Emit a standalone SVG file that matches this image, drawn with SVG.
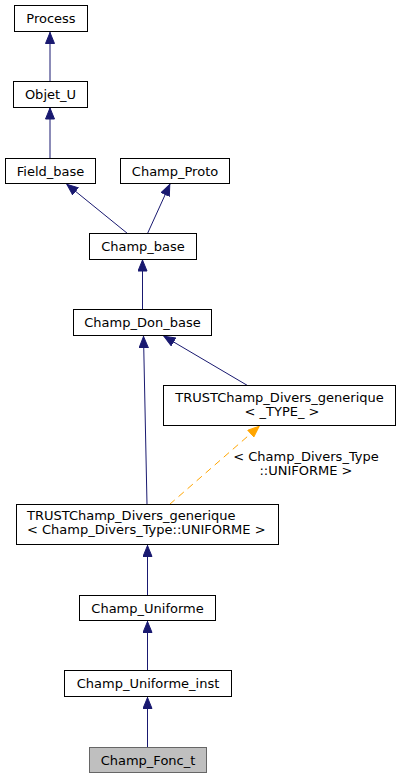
<svg xmlns="http://www.w3.org/2000/svg" width="401" height="779" viewBox="0 0 401 779">
<style>
.n rect{fill:#ffffff;stroke:#000000;stroke-width:1}
.n text{font-family:"DejaVu Sans",sans-serif;font-size:13px;fill:#000000;text-anchor:middle}
.l text{text-anchor:start}
#Champ_Fonc_t rect{fill:#bfbfbf;stroke:#666666}
.e{fill:none;stroke:#191970;stroke-width:1}
.d{fill:none;stroke:#ffa500;stroke-width:1;stroke-dasharray:7,5}
.lbl{font-family:"DejaVu Sans",sans-serif;font-size:13px;fill:#000000;text-anchor:middle}
</style>
<defs>
<marker id="ab" viewBox="0 0 12 10" refX="12" refY="5" markerWidth="12" markerHeight="10" markerUnits="userSpaceOnUse" orient="auto">
<path d="M0.5,0.5 L11.5,5 L0.5,9.5 z" fill="#191970" stroke="#191970"/>
</marker>
<marker id="ao" viewBox="0 0 12 10" refX="12" refY="5" markerWidth="12" markerHeight="10" markerUnits="userSpaceOnUse" orient="auto">
<path d="M0.5,0.5 L11.5,5 L0.5,9.5 z" fill="#ffa500" stroke="#ffa500"/>
</marker>
</defs>
<g id="edges">
<path class="e" d="M50,81.5 L50,32" marker-end="url(#ab)"/>
<path class="e" d="M50,158.5 L50,107.5" marker-end="url(#ab)"/>
<path class="e" d="M127.5,233.5 L66.5,184" marker-end="url(#ab)"/>
<path class="e" d="M147.5,233.5 L170,184" marker-end="url(#ab)"/>
<path class="e" d="M142.5,309.5 L142.5,259.5" marker-end="url(#ab)"/>
<path class="e" d="M247.5,385.5 L163.5,336" marker-end="url(#ab)"/>
<path class="e" d="M147,504.5 L143.5,336" marker-end="url(#ab)"/>
<path class="d" d="M169.5,504.5 L259.5,426" marker-end="url(#ao)"/>
<path class="e" d="M147.5,595.5 L147.5,545" marker-end="url(#ab)"/>
<path class="e" d="M147.5,670.5 L147.5,621" marker-end="url(#ab)"/>
<path class="e" d="M147.5,747.5 L147.5,697" marker-end="url(#ab)"/>
<text class="lbl" x="306" y="461">&lt; Champ_Divers_Type</text>
<text class="lbl" x="306" y="475">::UNIFORME &gt;</text>
</g>
<g id="Process" class="n"><rect x="14.5" y="5.5" width="73" height="26"/><text x="51" y="23">Process</text></g>
<g id="Objet_U" class="n"><rect x="13.5" y="81.5" width="74" height="26"/><text x="50.5" y="99">Objet_U</text></g>
<g id="Field_base" class="n"><rect x="5.5" y="158.5" width="90" height="25"/><text x="50.5" y="175.5">Field_base</text></g>
<g id="Champ_Proto" class="n"><rect x="120.5" y="158.5" width="109" height="25"/><text x="175" y="175.5">Champ_Proto</text></g>
<g id="Champ_base" class="n"><rect x="89.5" y="233.5" width="107" height="26"/><text x="143" y="251">Champ_base</text></g>
<g id="Champ_Don_base" class="n"><rect x="73.5" y="309.5" width="138" height="26"/><text x="142.5" y="327">Champ_Don_base</text></g>
<g id="TRUSTChamp_Divers_generique_TYPE" class="n"><rect x="163.5" y="385.5" width="232" height="40"/><text x="279.5" y="402">TRUSTChamp_Divers_generique</text><text x="282" y="416">&lt; _TYPE_ &gt;</text></g>
<g id="TRUSTChamp_Divers_generique_UNIFORME" class="n l"><rect x="16.5" y="504.5" width="262" height="40"/><text x="27" y="520">TRUSTChamp_Divers_generique</text><text x="27" y="534">&lt; Champ_Divers_Type::UNIFORME &gt;</text></g>
<g id="Champ_Uniforme" class="n"><rect x="79.5" y="595.5" width="136" height="25"/><text x="147.5" y="612.5">Champ_Uniforme</text></g>
<g id="Champ_Uniforme_inst" class="n"><rect x="64.5" y="670.5" width="167" height="26"/><text x="148" y="688">Champ_Uniforme_inst</text></g>
<g id="Champ_Fonc_t" class="n"><rect x="89.5" y="747.5" width="117" height="25"/><text x="148" y="764.5">Champ_Fonc_t</text></g>
</svg>
